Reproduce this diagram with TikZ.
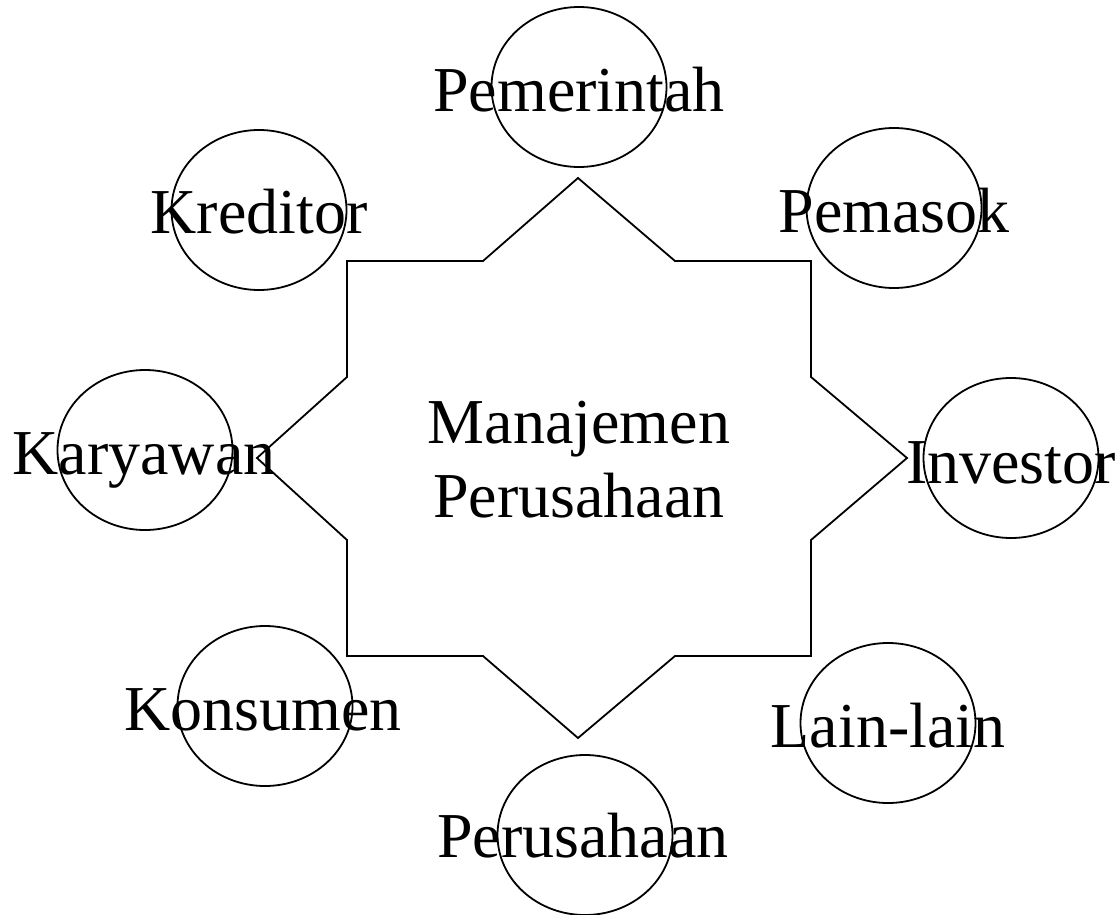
\documentclass[tikz,border=0pt]{standalone}
\usepackage{fontspec}
\setmainfont{Liberation Serif}
\usetikzlibrary{shapes.geometric, calc}

\begin{document}
\begin{tikzpicture}[x=1pt, y=-1pt,
    oval/.style={draw, ellipse, line width=1.8pt, minimum width=175pt, minimum height=160pt, inner sep=0pt},
    lbl/.style={anchor=base, inner sep=0pt, font=\fontsize{64}{74}\selectfont}]
      \useasboundingbox (0, 0) rectangle (1119, 915);

      % star in the middle
      \draw[line width=1.8pt] (578, 178) -- (675, 261) -- (811, 261) -- (811, 377) -- (907, 458) -- (811, 540) -- (811, 656) -- (675, 656) -- (578, 738) -- (483, 656) -- (347, 656) -- (347, 540) -- (257, 458) -- (347, 377) -- (347, 261) -- (483, 261) -- cycle;
      \node[lbl, anchor=center, align=center] (mgmt) at (579, 460) {Manajemen\\Perusahaan};

      \node[oval] (pemerintah) at (579, 87) {};
      \node[lbl] (pemerintahT) at ([yshift=-25pt]pemerintah.center) {Pemerintah};

      \node[oval] (kreditor) at (259, 210) {};
      \node[lbl] (kreditorT) at ([yshift=-23pt]kreditor.center) {Kreditor};

      \node[oval] (pemasok) at (894, 208) {};
      \node[lbl] (pemasokT) at ([yshift=-24pt]pemasok.center) {Pemasok};

      \node[oval] (karyawan) at (145, 450) {};
      \node[lbl] (karyawanT) at ([xshift=-1pt, yshift=-24pt]karyawan.center) {Karyawan};

      \node[oval] (investor) at (1011, 458) {};
      \node[lbl] (investorT) at ([yshift=-25pt]investor.center) {Investor};

      \node[oval] (konsumen) at (265, 706) {};
      \node[lbl] (konsumenT) at ([xshift=-2pt, yshift=-24pt]konsumen.center) {Konsumen};

      \node[oval] (lain) at (888, 723) {};
      \node[lbl] (lainT) at ([yshift=-24pt]lain.center) {Lain-lain};

      \node[oval] (perusahaan) at (585, 835) {};
      \node[lbl] (perusahaanT) at ([xshift=-2pt, yshift=-22pt]perusahaan.center) {Perusahaan};

    \end{tikzpicture}
\end{document}
